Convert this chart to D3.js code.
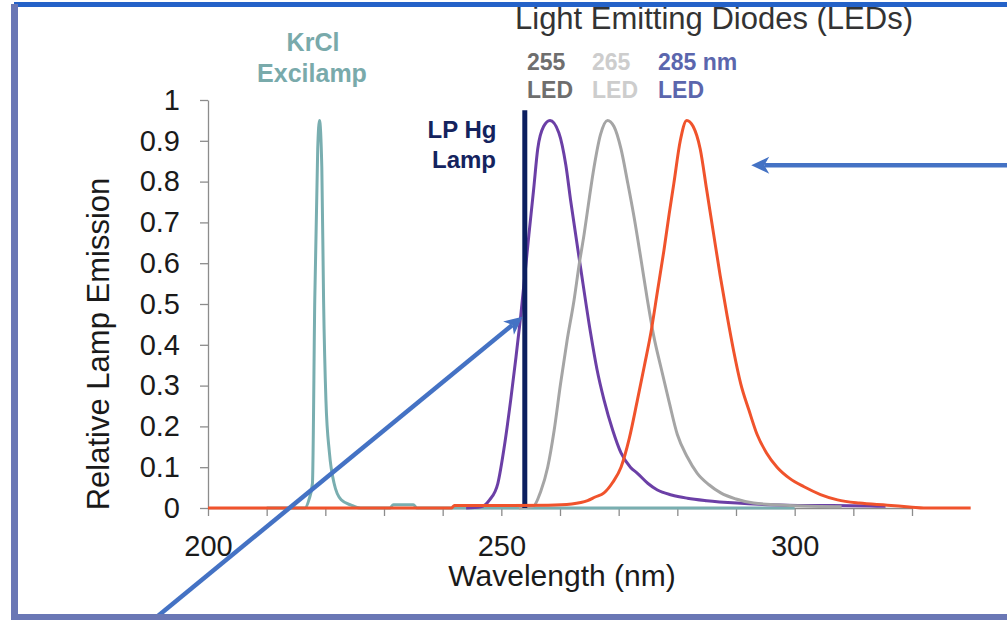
<!DOCTYPE html>
<html>
<head>
<meta charset="utf-8">
<script src="https://cdn.jsdelivr.net/npm/d3@7"></script>
<style>
  html, body { margin: 0; padding: 0; background: #fff; }
  svg { display: block; font-family: "Liberation Sans", Arial, sans-serif; }
</style>
</head>
<body>
<div id="chart"></div>
<script>
// wavelengths (nm) and relative emission
var krclNm  = [210, 216.5, 217.2, 217.8, 218.2, 218.7, 219.0, 219.4, 219.7, 220.1, 220.7, 221.5, 222.7, 224.4, 226, 231, 231.6, 235, 235.6, 300];
var krclVal = [0, 0, 0.02, 0.06, 0.51, 0.88, 0.95, 0.835, 0.51, 0.265, 0.135, 0.06, 0.02, 0.007, 0, 0, 0.008, 0.008, 0, 0];

var led255Nm  = [244, 246.5, 248, 249.4, 250.5, 251.6, 252.5, 253.3, 254.7, 255.5, 256.2, 257.2, 258.3, 259.8, 261, 261.8, 263.5, 265.2, 266.3, 267.5, 269, 270.4, 272, 273.2, 275, 276.6, 279, 281.7, 285, 290.2, 294, 298.7, 305, 313, 315.5];
var led255Val = [0, 0.003, 0.02, 0.06, 0.15, 0.265, 0.37, 0.47, 0.67, 0.78, 0.88, 0.935, 0.95, 0.92, 0.84, 0.755, 0.59, 0.43, 0.34, 0.265, 0.19, 0.135, 0.1, 0.085, 0.06, 0.044, 0.032, 0.024, 0.018, 0.012, 0.009, 0.007, 0.006, 0.005, 0.004];

var led265Nm  = [253, 255.5, 256.7, 257.9, 259, 260.1, 261.2, 262.4, 263.3, 264.1, 265, 265.8, 266.9, 268.1, 269.2, 270.4, 271.5, 272.6, 273.8, 274.9, 276, 277.2, 278.6, 280, 281.7, 283.4, 285.4, 287.4, 290, 293, 297, 301.6, 308];
var led265Val = [0, 0.005, 0.04, 0.10, 0.19, 0.305, 0.41, 0.51, 0.6, 0.67, 0.76, 0.835, 0.915, 0.95, 0.935, 0.88, 0.8, 0.715, 0.61, 0.51, 0.42, 0.345, 0.26, 0.18, 0.125, 0.085, 0.057, 0.037, 0.022, 0.012, 0.008, 0.005, 0.003];

var led285Nm  = [200, 241.5, 242, 250, 258, 262, 264.7, 266, 267.5, 269, 270.4, 271.8, 273.2, 274.4, 275.5, 276.6, 277.7, 278.6, 279.4, 280.5, 281.6, 282.7, 283.9, 285, 286.2, 287.3, 288.5, 289.6, 290.8, 292.2, 293.6, 295.2, 297, 299.2, 301.6, 304.4, 307.3, 311, 315.8, 320, 322, 330];
var led285Val = [0, 0, 0.006, 0.006, 0.007, 0.01, 0.018, 0.027, 0.037, 0.063, 0.10, 0.17, 0.265, 0.35, 0.43, 0.53, 0.63, 0.72, 0.795, 0.9, 0.95, 0.935, 0.88, 0.78, 0.67, 0.57, 0.47, 0.385, 0.305, 0.24, 0.18, 0.135, 0.10, 0.072, 0.052, 0.033, 0.02, 0.012, 0.007, 0.002, 0, 0];

var hgNm  = [254.0, 254.0];
var hgVal = [0, 0.975];

var xTicks = [200, 210, 220, 230, 240, 250, 260, 270, 280, 290, 300, 310, 320];
var xTickLabels = ["200", "", "", "", "", "250", "", "", "", "", "300", "", ""];
var yTicks = [0, 0.1, 0.2, 0.3, 0.4, 0.5, 0.6, 0.7, 0.8, 0.9, 1];
var yTickLabels = ["0", "0.1", "0.2", "0.3", "0.4", "0.5", "0.6", "0.7", "0.8", "0.9", "1"];

// annotation arrows, in data units: [startNm, startVal, tipNm, tipVal]
var arrows = [[188.6, -0.2985, 253.6, 0.469], [336.6, 0.84, 292.6, 0.84]];

var W = 1007, H = 620;

var svg = d3.select("#chart").append("svg")
    .attr("width", W)
    .attr("height", H);

var x = d3.scaleLinear().domain([200, 320]).range([208, 912]);
var y = d3.scaleLinear().domain([0, 1]).range([508, 100]);

function pairs(nm, val) {
    return nm.map(function (d, i) { return [d, val[i]]; });
}

var line = d3.line()
    .x(function (d) { return x(d[0]); })
    .y(function (d) { return y(d[1]); })
    .curve(d3.curveMonotoneX);

// axes
var yAxis = d3.axisLeft(y)
    .tickValues(yTicks)
    .tickFormat(function (d, i) { return yTickLabels[i]; })
    .tickSize(8)
    .tickSizeOuter(0)
    .tickPadding(20);

var xAxis = d3.axisBottom(x)
    .tickValues(xTicks)
    .tickFormat(function (d, i) { return xTickLabels[i]; })
    .tickSize(8)
    .tickSizeOuter(0)
    .tickPadding(19);

var gy = svg.append("g").attr("transform", "translate(208,0)").call(yAxis);
var gx = svg.append("g").attr("transform", "translate(0,508)").call(xAxis);

[gx, gy].forEach(function (g) {
    g.selectAll("path, line").attr("stroke", "#8c8c8c").attr("stroke-width", 1.3);
    g.selectAll("text").attr("fill", "#1a1a1a").style("font-size", "29px")
        .style("font-family", "'Liberation Sans', Arial, sans-serif");
});

svg.append("text")
    .attr("x", 562).attr("y", 586)
    .attr("text-anchor", "middle")
    .attr("fill", "#1a1a1a")
    .style("font-size", "30px")
    .text("Wavelength (nm)");

svg.append("text")
    .attr("transform", "translate(109,344) rotate(-90)")
    .attr("text-anchor", "middle")
    .attr("fill", "#1a1a1a")
    .style("font-size", "31px")
    .text("Relative Lamp Emission");

// spectra
var series = [
    { nm: krclNm, val: krclVal, color: "#79aeb0", w: 3 },
    { nm: led255Nm, val: led255Val, color: "#6b3fa6", w: 3 },
    { nm: led265Nm, val: led265Val, color: "#a5a5a5", w: 3 },
    { nm: hgNm, val: hgVal, color: "#0c1f60", w: 5, straight: true },
    { nm: led285Nm, val: led285Val, color: "#f0532c", w: 3 }
];

series.forEach(function (s) {
    var gen = s.straight ? d3.line().x(function (d) { return x(d[0]); }).y(function (d) { return y(d[1]); }) : line;
    svg.append("path")
        .datum(pairs(s.nm, s.val))
        .attr("d", gen)
        .attr("fill", "none")
        .attr("stroke", s.color)
        .attr("stroke-width", s.w)
        .attr("stroke-linejoin", "round");
});

// labels
function label(txt, px, py, size, color, anchor, weight) {
    svg.append("text")
        .attr("x", px).attr("y", py)
        .attr("text-anchor", anchor || "start")
        .attr("fill", color)
        .style("font-size", size + "px")
        .style("font-weight", weight || "bold")
        .text(txt);
}

label("Light Emitting Diodes (LEDs)", 714, 29, 31, "#333333", "middle", "normal");
label("KrCl", 313, 51, 25, "#79aaab", "middle");
label("Excilamp", 312, 82, 25, "#79aaab", "middle");
label("255", 527, 70, 23, "#6e6e6e");
label("LED", 527, 98, 23, "#6e6e6e");
label("265", 592, 70, 23, "#cdcdcd");
label("LED", 592, 98, 23, "#cdcdcd");
label("285 nm", 658, 70, 23, "#5b66ad");
label("LED", 658, 98, 23, "#5b66ad");
label("LP Hg", 462, 138, 24, "#14235e", "middle");
label("Lamp", 464, 168, 24, "#14235e", "middle");

// arrows
var blue = "#4472c4";
arrows.forEach(function (a) {
    var x0 = x(a[0]), y0 = y(a[1]), x1 = x(a[2]), y1 = y(a[3]);
    var ang = Math.atan2(y1 - y0, x1 - x0);
    var len = 18, half = 8.5, notch = 5;
    var bx = x1 - len * Math.cos(ang), by = y1 - len * Math.sin(ang);
    svg.append("line")
        .attr("x1", x0).attr("y1", y0)
        .attr("x2", x1 - (len - notch) * Math.cos(ang))
        .attr("y2", y1 - (len - notch) * Math.sin(ang))
        .attr("stroke", blue).attr("stroke-width", 4.5);
    var px = -Math.sin(ang), py = Math.cos(ang);
    var nx = x1 - (len - notch) * Math.cos(ang), ny = y1 - (len - notch) * Math.sin(ang);
    svg.append("path")
        .attr("d", "M" + x1 + "," + y1 +
            "L" + (bx + px * half) + "," + (by + py * half) +
            "L" + nx + "," + ny +
            "L" + (bx - px * half) + "," + (by - py * half) + "Z")
        .attr("fill", blue);
});

// slide frame
svg.append("rect").attr("x", 14).attr("y", 2).attr("width", W - 14).attr("height", 5).attr("fill", "#2462c8");
svg.append("rect").attr("x", 11).attr("y", 4).attr("width", 7).attr("height", H - 4).attr("fill", "#6a77b5");
svg.append("rect").attr("x", 11).attr("y", 614).attr("width", W - 11).attr("height", 6).attr("fill", "#6a77b5");
</script>
</body>
</html>
